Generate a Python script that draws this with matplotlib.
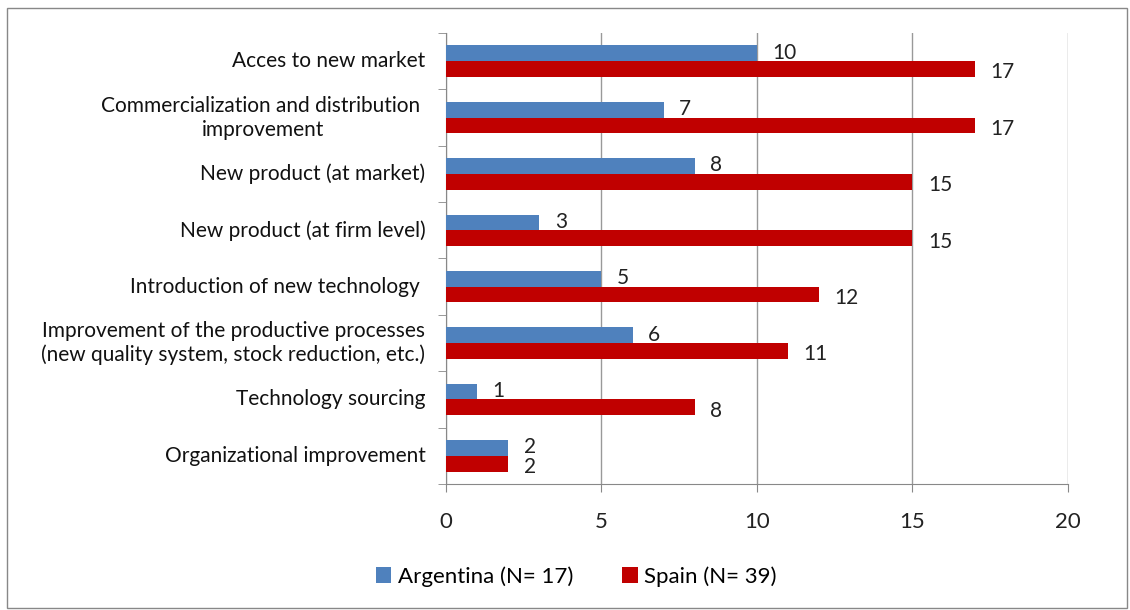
import matplotlib.pyplot as plt
import matplotlib.patches as patches
import numpy as np

plt.rcParams['font.family'] = ['Lato', 'DejaVu Sans']

categories = ['Acces to new market',
              'Commercialization and distribution \nimprovement',
              'New product (at market)',
              'New product (at firm level)',
              'Introduction of new technology ',
              'Improvement of the productive processes\n(new quality system, stock reduction, etc.)',
              'Technology sourcing',
              'Organizational improvement']
argentina = [10, 7, 8, 3, 5, 6, 1, 2]
spain = [17, 17, 15, 15, 12, 11, 8, 2]

blue = '#4F81BD'
red = '#C00000'

fig = plt.figure(figsize=(11.3, 6.1), dpi=100)
ax = fig.add_axes([0.3947, 0.2066, 0.5504, 0.7393])

y = np.arange(len(categories))
h = 0.28
ax.barh(y - h / 2, argentina, height=h, color=blue, label='Argentina (N= 17)', zorder=3)
ax.barh(y + h / 2, spain, height=h, color=red, label='Spain (N= 39)', zorder=3)

for i in range(len(categories)):
    ax.text(argentina[i] + 0.5, y[i] - h / 2 - 0.01, str(argentina[i]), va='center', ha='left',
            fontsize=15, color='#222222')
    ax.text(spain[i] + 0.5, y[i] + h / 2 + 0.06, str(spain[i]), va='center', ha='left',
            fontsize=15, color='#222222')

ax.set_xlim(0, 20)
ax.set_ylim(len(categories) - 0.5, -0.5)
ax.set_xticks([0, 5, 10, 15, 20])

# category labels: right-aligned block, lines centred within it
ax.set_yticks(y)
ax.set_yticklabels([])
for i, cat in enumerate(categories):
    ax.text(-0.033, y[i], cat, transform=ax.get_yaxis_transform(), ha='right', va='center',
            multialignment='center', fontsize=15, color='#111111', linespacing=1.25)

ax.set_yticks(np.arange(len(categories) + 1) - 0.5, minor=True)
ax.tick_params(axis='y', which='major', length=0)
ax.tick_params(axis='y', which='minor', length=6, color='#888888')
ax.tick_params(axis='x', length=6, color='#888888', labelsize=16, pad=14, labelcolor='#222222')
ax.grid(axis='x', color='#999999', linewidth=1, zorder=0)

for s in ['top', 'right']:
    ax.spines[s].set_visible(False)
for s in ['left', 'bottom']:
    ax.spines[s].set_color('#888888')

fig.legend(loc='lower center', bbox_to_anchor=(0.51, 0.005), ncol=2, frameon=False,
           fontsize=16, handlelength=0.7, handleheight=0.7, columnspacing=2.2,
           handletextpad=0.3)

fig.patches.append(patches.Rectangle((7 / 1130, 2 / 610), 1120 / 1130, 600 / 610,
                                     transform=fig.transFigure, fill=False,
                                     edgecolor='#888888', linewidth=1))

fig.savefig('out.png', dpi=100)
